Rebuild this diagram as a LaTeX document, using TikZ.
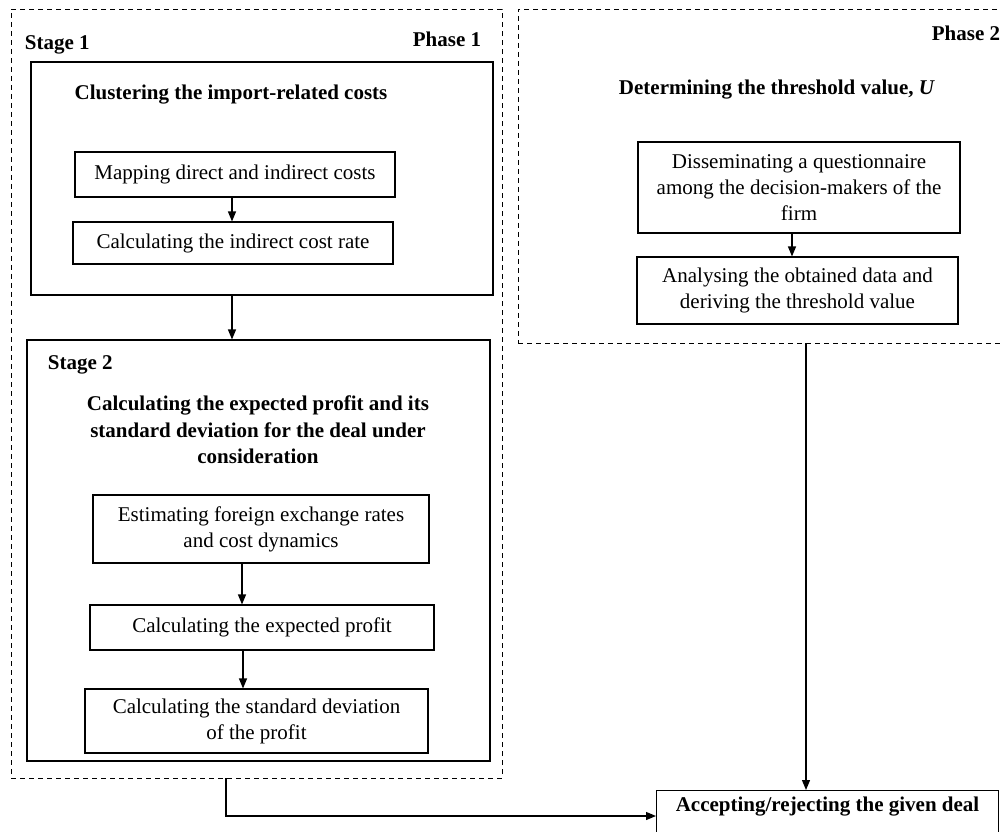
\documentclass[tikz,border=0pt]{standalone}
\usepackage{fontspec}
\setmainfont{Liberation Serif}
\usetikzlibrary{arrows.meta}
\begin{document}
\begin{tikzpicture}[x=1pt,y=-1pt,line width=1.1pt,font=\fontsize{21}{26}\selectfont]
\tikzstyle{phase}=[draw,dashed,dash pattern=on 5pt off 4pt,line width=0.9pt,inner sep=0pt]
\tikzstyle{stage}=[draw,inner sep=0pt]
\tikzstyle{task}=[draw,align=center,inner sep=0pt]
\tikzstyle{head}=[font=\fontsize{21}{26.5}\selectfont\bfseries,align=center]
\tikzstyle{tag}=[font=\fontsize{21}{26}\selectfont\bfseries]
\tikzstyle{flow}=[-{Triangle[length=10pt,width=8pt]},line width=1.2pt]
\useasboundingbox (0,0) rectangle (1001,832);
% phases
\node[phase,minimum width=491,minimum height=769] (phase1) at (256.5,393.5) {};
\node[phase,minimum width=500,minimum height=334] (phase2) at (768,176) {};
\node[tag,anchor=east] (p1lab) at (485,39) {Phase 1};
\node[tag,anchor=east] (p2lab) at (1004,33) {Phase 2};
% stage 1
\node[stage,minimum width=462,minimum height=233] (stage1) at (262,178.5) {};
\node[tag,anchor=west] (s1lab) at (21,45) {Stage 1};
\node[head] (s1head) at (231,95) {Clustering the import-related costs};
\node[task,minimum width=320,minimum height=45] (map) at (235,174.5) {Mapping direct and indirect costs};
\node[task,minimum width=320,minimum height=42] (rate) at (233,243) {Calculating the indirect cost rate};
% stage 2
\node[stage,minimum width=463,minimum height=421] (stage2) at (258.5,550.5) {};
\node[tag,anchor=west] (s2lab) at (44,365) {Stage 2};
\node[head] (s2head) at (258,430) {Calculating the expected profit and its\\standard deviation for the deal under\\consideration};
\node[task,minimum width=336,minimum height=68] (est) at (261,529) {Estimating foreign exchange rates\\and cost dynamics};
\node[task,minimum width=344,minimum height=45] (exp) at (262,627.5) {Calculating the expected profit};
\node[task,minimum width=343,minimum height=64] (sd) at (256.5,721) {Calculating the standard deviation\\of the profit};
% phase 2 content
\node[head] (p2head) at (777,90) {Determining the threshold value, \textit{U}};
\node[task,minimum width=322,minimum height=91] (quest) at (799,187.5) {Disseminating a questionnaire\\among the decision-makers of the\\firm};
\node[task,minimum width=321,minimum height=67] (anal) at (797.5,290.5) {Analysing the obtained data and\\deriving the threshold value};
% decision
\node[task,font=\fontsize{21}{26}\selectfont\bfseries,minimum width=342,minimum height=50,anchor=north west,text depth=22pt] (deal) at (656,790) {Accepting/rejecting the given deal};
% arrows
\draw[flow] (map.south -| 232,0) -- (rate.north -| 232,0);
\draw[flow] (stage1.south -| 232,0) -- (stage2.north -| 232,0);
\draw[flow] (est.south -| 242,0) -- (exp.north -| 242,0);
\draw[flow] (exp.south -| 243,0) -- (sd.north -| 243,0);
\draw[flow] (quest.south -| 792,0) -- (anal.north -| 792,0);
\draw[flow] (phase2.south -| 806,0) -- (deal.north -| 806,0);
\draw[flow] (phase1.south -| 226,0) |- (deal.west |- 0,816);
\end{tikzpicture}
\end{document}
